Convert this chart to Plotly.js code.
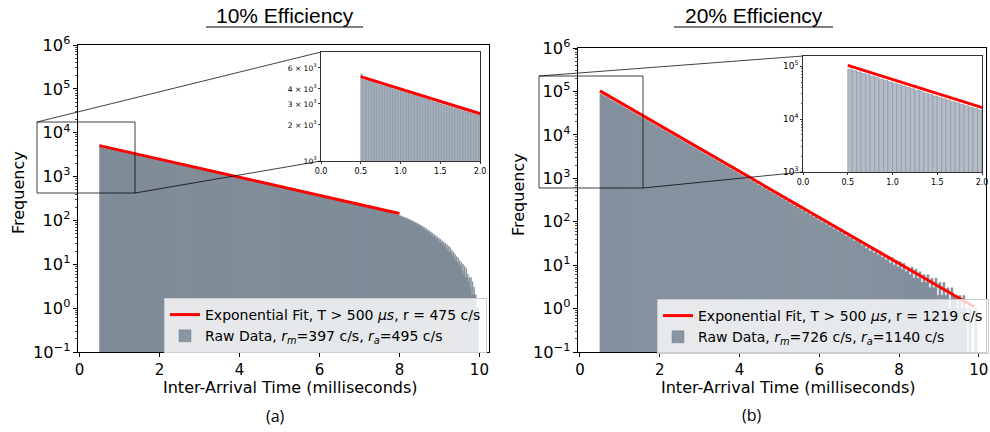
<!DOCTYPE html>
<html><head><meta charset="utf-8">
<script src="https://cdn.plot.ly/plotly-3.0.1.min.js"></script>
<style>html,body{margin:0;padding:0;background:#fff}</style>
</head><body><div id="chart" style="width:990px;height:432px"></div>
<script>
// ---- Panel (a): 10% efficiency, 0.02 ms bins starting at 0.5 ms ----
const binStartA = 0.5, binWidthA = 0.02;
const countsA = [
5310,4820,4700,4810,4690,4720,4580,4660,4530,4560,
4390,4440,4300,4370,4230,4280,4170,4220,4090,4130,
3980,4030,3920,3990,3850,3880,3760,3840,3720,3690,
3690,3580,3620,3530,3560,3440,3500,3390,3430,3350,
3330,3270,3260,3290,3150,3190,3120,3070,3130,3030,
2990,3030,2930,2950,2870,2890,2810,2860,2760,2790,
2730,2760,2660,2700,2620,2640,2580,2570,2560,2490,
2510,2450,2460,2420,2400,2350,2380,2310,2330,2270,
2280,2230,2220,2190,2200,2130,2160,2100,2070,2090,
2030,2060,2000,2000,1960,1970,1920,1930,1900,1890,
1860,1870,1820,1830,1790,1790,1760,1750,1720,1730,
1710,1680,1680,1640,1650,1610,1610,1580,1590,1550,
1560,1520,1530,1490,1500,1470,1470,1440,1440,1410,
1420,1390,1390,1360,1370,1330,1340,1310,1310,1280,
1290,1260,1260,1240,1240,1210,1220,1180,1200,1160,
1175,1140,1155,1120,1130,1100,1110,1080,1090,1060,
1070,1040,1050,1020,1025,1000,1005,985,990,960,
975,948,952,930,935,910,918,895,900,875,
885,860,868,845,850,828,836,812,818,796,
805,782,788,768,772,752,758,737,743,722,
732,710,717,697,703,684,690,670,676,658,
665,646,652,634,640,621,628,609,615,598,
605,587,592,576,581,564,570,553,559,543,
549,533,539,523,528,512,518,503,508,494,
499,484,490,475,481,466,471,457,462,449,
454,440,445,432,437,423,429,416,420,408,
413,400,405,393,397,385,390,378,382,371,
375,364,368,357,361,350,354,344,347,337,
341,331,335,324,328,319,322,312,316,306,
310,301,304,295,298,289,293,284,287,278,
282,274,276,268,271,263,266,258,261,253,
256,249,251,244,246,239,241,234,237,230,
233,226,228,221,224,217,219,213,215,209,
212,205,208,201,203,197,199,194,196,190,
193,186,189,183,185,179,181,176,178,172,
175,169,172,165,168,162,165,159,162,156,
158,151,154,148,150,144,147,141,143,138,
140,133,136,129,132,125,128,121,124,117,
120,113,116,109,112,104,108,100,104,96,
99,92,96,88,91,84,88,80,84,77,
80,72,76,68,72,64,69,60,65,57,
61,53,58,50,54,46,51,43,48,41,
45,38,42,35,39,32,37,30,34,28,
32,26,30,23,28,21,26,19,24,18,
21,16,19,14,17,12,15,11,14,10,
12,9,11,7,10,6,9,5,8,5,
6,4,5,3,5,2,4,2,3,2,
2,1,1,1,0
];
const fitXA = [0.5, 8.0];
const fitYA = [5070, 144];
const fitNameA = "Exponential Fit, T &gt; 500 <i>μs</i>, r = 475 c/s";
const rawNameA = "Raw Data, <i>r<sub>m</sub></i>=397 c/s, <i>r<sub>a</sub></i>=495 c/s";

// ---- Panel (b): 20% efficiency, 0.05 ms bins starting at 0.5 ms ----
const binStartB = 0.5, binWidthB = 0.05;
const countsB = [
87400,81600,77300,72200,68400,63900,60500,56600,53600,50000,
47500,44300,42000,39200,37300,34700,32900,30800,29200,27200,
25800,24100,22900,21300,20200,18900,17900,16700,15850,14800,
14050,13100,12450,11600,11020,10260,9760,9090,8640,8050,
7650,7120,6780,6300,6000,5580,5310,4940,4710,4370,
4170,3870,3690,3420,3270,3030,2890,2680,2560,2370,
2270,2100,2010,1850,1780,1640,1580,1450,1400,1280,
1240,1140,1100,1005,975,890,865,788,765,696,
680,615,602,543,533,480,473,425,419,376,
372,333,330,294,292,260,258,229,229,203,
204,179,181,158,160,139,143,124,127,109,
113,96,100,85,89,75,79,66,71,59,
63,53,57,46,51,41,45,36,40,33,
36,28,32,24,29,21,26,19,23,17,
21,15,18,13,16,11,15,10,13,9,
12,8,11,7,9,6,9,5,8,5,
7,4,6,4,6,3,5,3,5,2,
4,2,4,2,3,1,3,2,2,1,
2,1,2,1,0,1,0,0,1,0
];
const fitXB = [0.5, 9.88];
const fitYB = [103000, 1.1];
const fitNameB = "Exponential Fit, T &gt; 500 <i>μs</i>, r = 1219 c/s";
const rawNameB = "Raw Data, <i>r<sub>m</sub></i>=726 c/s, <i>r<sub>a</sub></i>=1140 c/s";

const xTickVals = [0, 2, 4, 6, 8, 10];
const insetXTicks = [0.0, 0.5, 1.0, 1.5, 2.0];
const insetAYVals = [1000, 2000, 3000, 4000, 6000];
const insetAYText = ["10<sup>3</sup>", "2 × 10<sup>3</sup>", "3 × 10<sup>3</sup>", "4 × 10<sup>3</sup>", "6 × 10<sup>3</sup>"];

const centersA = countsA.map((_, i) => binStartA + (i + 0.5) * binWidthA);
const centersB = countsB.map((_, i) => binStartB + (i + 0.5) * binWidthB);

const W = 990, H = 432;
const px = v => v / W;
const py = v => 1 - v / H;

const DV = 'DejaVu Sans, sans-serif';
const mainStyle = {color: '#8895a3', line: {color: '#77838f', width: 0.5}};
const insetStyle = {color: '#b4bdc7', line: {color: '#8592a0', width: 0.6}};

function barTrace(x, y, w, xa, ya, name, legend, show, style) {
  return {type: 'bar', x: x, y: y, width: w, xaxis: xa, yaxis: ya, name: name,
    legend: legend, showlegend: show, marker: style};
}
function fitTrace(x, y, xa, ya, name, legend, show) {
  return {type: 'scatter', mode: 'lines', x: x, y: y, xaxis: xa, yaxis: ya, name: name,
    legend: legend, showlegend: show, line: {color: '#ff0000', width: 3}};
}

const data = [
  fitTrace(fitXA, fitYA, 'x', 'y', fitNameA, 'legend', true),
  barTrace(centersA, countsA, binWidthA, 'x', 'y', rawNameA, 'legend', true, mainStyle),
  fitTrace(fitXB, fitYB, 'x2', 'y2', fitNameB, 'legend2', true),
  barTrace(centersB, countsB, binWidthB, 'x2', 'y2', rawNameB, 'legend2', true, mainStyle),
  barTrace(centersA, countsA, binWidthA, 'x3', 'y3', rawNameA, 'legend', false, insetStyle),
  fitTrace(fitXA, fitYA, 'x3', 'y3', fitNameA, 'legend', false),
  barTrace(centersB, countsB, binWidthB, 'x4', 'y4', rawNameB, 'legend2', false, insetStyle),
  fitTrace(fitXB, fitYB, 'x4', 'y4', fitNameB, 'legend2', false)
];

const alias = {"1": "10<sup>0</sup>", "10": "10<sup>1</sup>"};
function mainX(domain, range, anchor) {
  return {domain: domain, range: range, anchor: anchor, tickmode: 'array', tickvals: xTickVals,
    ticks: 'outside', ticklen: 4, tickwidth: 1, tickcolor: '#000', ticklabeloverflow: 'allow',
    showline: true, mirror: true, linecolor: '#000', linewidth: 1,
    showgrid: false, zeroline: false, automargin: false,
    tickfont: {family: DV, size: 15, color: '#000'}};
}
function mainY(domain, anchor) {
  return {domain: domain, type: 'log', range: [-1, 6], anchor: anchor, dtick: 1,
    exponentformat: 'power', labelalias: alias, ticklabeloverflow: 'allow',
    ticks: 'outside', ticklen: 4, tickwidth: 1, tickcolor: '#000',
    minor: {ticks: 'outside', ticklen: 2, tickwidth: 0.7, tickcolor: '#000', dtick: 'D1', showgrid: false},
    showline: true, mirror: true, linecolor: '#000', linewidth: 1,
    showgrid: false, zeroline: false, automargin: false,
    tickfont: {family: DV, size: 13, color: '#000'}};
}
function insetX(domain, anchor) {
  return {domain: domain, range: [0, 2], anchor: anchor, tickmode: 'array', tickvals: insetXTicks,
    tickformat: '.1f', ticks: 'outside', ticklen: 2, tickwidth: 0.8, tickcolor: '#000', ticklabeloverflow: 'allow',
    showline: true, mirror: true, linecolor: '#333', linewidth: 1,
    showgrid: false, zeroline: false, automargin: false,
    tickfont: {family: DV, size: 8, color: '#000'}};
}

const layout = {
  width: W, height: H, margin: {l: 0, r: 0, t: 0, b: 0},
  paper_bgcolor: '#fff', plot_bgcolor: '#fff',
  bargap: 0, barmode: 'overlay', hovermode: false,
  xaxis: mainX([px(78), px(489)], [-0.04, 10.24], 'y'),
  yaxis: mainY([py(352), py(45)], 'x'),
  xaxis2: mainX([px(578), px(986)], [-0.05, 10.18], 'y2'),
  yaxis2: mainY([py(352), py(48)], 'x2'),
  xaxis3: insetX([px(321), px(480)], 'y3'),
  yaxis3: {domain: [py(161), py(52)], type: 'log', range: [3, 3.911], anchor: 'x3',
    tickmode: 'array', tickvals: insetAYVals, ticktext: insetAYText, ticklabeloverflow: 'allow',
    ticks: 'outside', ticklen: 2, tickwidth: 0.8, tickcolor: '#000',
    showline: true, mirror: true, linecolor: '#333', linewidth: 1,
    showgrid: false, zeroline: false, automargin: false,
    tickfont: {family: DV, size: 7.5, color: '#000'}},
  xaxis4: insetX([px(803), px(982)], 'y4'),
  yaxis4: {domain: [py(172), py(56)], type: 'log', range: [3, 5.19], anchor: 'x4',
    dtick: 1, exponentformat: 'power', ticklabeloverflow: 'allow',
    ticks: 'outside', ticklen: 2, tickwidth: 0.8, tickcolor: '#000',
    minor: {ticks: 'outside', ticklen: 1.5, tickwidth: 0.6, tickcolor: '#000', dtick: 'D1', showgrid: false},
    showline: true, mirror: true, linecolor: '#333', linewidth: 1,
    showgrid: false, zeroline: false, automargin: false,
    tickfont: {family: DV, size: 7.2, color: '#000'}},
  legend: {x: px(164), y: py(298), xanchor: 'left', yanchor: 'top',
    bgcolor: 'rgba(255,255,255,0.8)', bordercolor: '#cccccc', borderwidth: 1,
    font: {family: DV, size: 14, color: '#000'}, tracegroupgap: 0, traceorder: 'normal'},
  legend2: {x: px(657), y: py(299), xanchor: 'left', yanchor: 'top',
    bgcolor: 'rgba(255,255,255,0.8)', bordercolor: '#cccccc', borderwidth: 1,
    font: {family: DV, size: 14, color: '#000'}, tracegroupgap: 0, traceorder: 'normal'},
  shapes: [
    {type: 'rect', xref: 'paper', yref: 'paper', x0: px(37), x1: px(135), y0: py(193), y1: py(122), line: {color: 'rgba(0,0,0,0.75)', width: 1}, layer: 'above'},
    {type: 'line', xref: 'paper', yref: 'paper', x0: px(37), y0: py(122), x1: px(321), y1: py(52), line: {color: 'rgba(0,0,0,0.75)', width: 1}, layer: 'above'},
    {type: 'line', xref: 'paper', yref: 'paper', x0: px(135), y0: py(193), x1: px(321), y1: py(161), line: {color: 'rgba(0,0,0,0.75)', width: 1}, layer: 'above'},
    {type: 'rect', xref: 'paper', yref: 'paper', x0: px(539), x1: px(643), y0: py(188), y1: py(76), line: {color: 'rgba(0,0,0,0.75)', width: 1}, layer: 'above'},
    {type: 'line', xref: 'paper', yref: 'paper', x0: px(539), y0: py(76), x1: px(803), y1: py(56), line: {color: 'rgba(0,0,0,0.75)', width: 1}, layer: 'above'},
    {type: 'line', xref: 'paper', yref: 'paper', x0: px(643), y0: py(188), x1: px(803), y1: py(172), line: {color: 'rgba(0,0,0,0.75)', width: 1}, layer: 'above'},
    {type: 'line', xref: 'paper', yref: 'paper', x0: px(206), y0: py(27), x1: px(363), y1: py(27), line: {color: '#000', width: 1}},
    {type: 'line', xref: 'paper', yref: 'paper', x0: px(674), y0: py(27), x1: px(833), y1: py(27), line: {color: '#000', width: 1}}
  ],
  annotations: [
    {text: '10% Efficiency', x: px(285), y: py(16), xref: 'paper', yref: 'paper', showarrow: false, xanchor: 'center', yanchor: 'middle', font: {family: 'Liberation Sans, Arial, sans-serif', size: 21, color: '#000'}},
    {text: '20% Efficiency', x: px(754), y: py(16), xref: 'paper', yref: 'paper', showarrow: false, xanchor: 'center', yanchor: 'middle', font: {family: 'Liberation Sans, Arial, sans-serif', size: 21, color: '#000'}},
    {text: 'Inter-Arrival Time (milliseconds)', x: px(290), y: py(387), xref: 'paper', yref: 'paper', showarrow: false, xanchor: 'center', yanchor: 'middle', font: {family: DV, size: 16, color: '#000'}},
    {text: 'Inter-Arrival Time (milliseconds)', x: px(788), y: py(387), xref: 'paper', yref: 'paper', showarrow: false, xanchor: 'center', yanchor: 'middle', font: {family: DV, size: 16, color: '#000'}},
    {text: 'Frequency', x: px(18), y: py(193), xref: 'paper', yref: 'paper', showarrow: false, textangle: -90, xanchor: 'center', yanchor: 'middle', font: {family: DV, size: 16, color: '#000'}},
    {text: 'Frequency', x: px(519), y: py(195), xref: 'paper', yref: 'paper', showarrow: false, textangle: -90, xanchor: 'center', yanchor: 'middle', font: {family: DV, size: 16, color: '#000'}},
    {text: '(a)', x: px(275), y: py(416), xref: 'paper', yref: 'paper', showarrow: false, xanchor: 'center', yanchor: 'middle', font: {family: 'Open Sans, sans-serif', size: 16, color: '#000'}},
    {text: '(b)', x: px(752), y: py(415), xref: 'paper', yref: 'paper', showarrow: false, xanchor: 'center', yanchor: 'middle', font: {family: 'Open Sans, sans-serif', size: 16, color: '#000'}}
  ]
};

Plotly.newPlot('chart', data, layout, {displayModeBar: false, staticPlot: true});
</script>
</body></html>
